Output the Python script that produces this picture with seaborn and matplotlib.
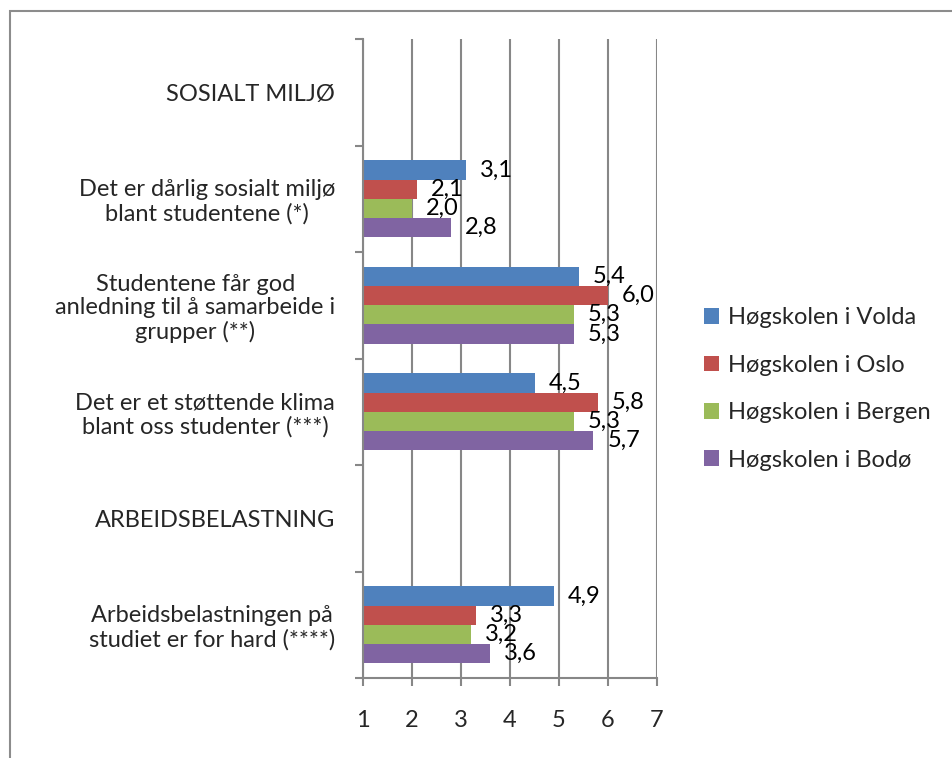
import matplotlib
matplotlib.use("Agg")
import matplotlib.pyplot as plt
from matplotlib.patches import Rectangle
import pandas as pd
import seaborn as sns

# categories top to bottom (the two headings have no bars)
questions = [
    "SOSIALT MILJØ",
    "Det er dårlig sosialt miljø\nblant studentene (*)",
    "Studentene får god\nanledning til å samarbeide i\ngrupper (**)",
    "Det er et støttende klima\nblant oss studenter (***)",
    "ARBEIDSBELASTNING",
    "Arbeidsbelastningen på\nstudiet er for hard (****)",
]
rated = [questions[1], questions[2], questions[3], questions[5]]

schools = ["Høgskolen i Volda", "Høgskolen i Oslo", "Høgskolen i Bergen", "Høgskolen i Bodø"]
volda = [3.1, 5.4, 4.5, 4.9]
oslo = [2.1, 6.0, 5.8, 3.3]
bergen = [2.0, 5.3, 5.3, 3.2]
bodo = [2.8, 5.3, 5.7, 3.6]
colors = ["#4F81BD", "#C0504D", "#9BBB59", "#8064A2"]

xticks = [1, 2, 3, 4, 5, 6, 7]

rows = []
for school, vals in zip(schools, [volda, oslo, bergen, bodo]):
    for q, v in zip(rated, vals):
        rows.append({"question": q, "score": v, "school": school})
df = pd.DataFrame(rows)

sns.set_theme(style="white")
plt.rcParams["font.family"] = ["Lato", "DejaVu Sans"]
fsize = 17
grey = "#878787"

fig = plt.figure(figsize=(9.52, 7.58), dpi=100)
ax = fig.add_axes([363/952, 1 - 678/758, (657 - 363)/952, (678 - 39)/758])

sns.barplot(data=df, y="question", x="score", hue="school", orient="h",
            order=questions, hue_order=schools, palette=colors, saturation=1,
            width=0.72, linewidth=0, ax=ax)

for cont in ax.containers:
    labs = [f"{b.get_width():.1f}".replace(".", ",") for b in cont]
    ax.bar_label(cont, labels=labs, padding=10, fontsize=fsize, color="black")

ax.set_xlim(1, 7)
ax.set_ylim(len(questions) - 0.5, -0.5)
ax.set_xticks(xticks)
ax.set_xticklabels([str(t) for t in xticks])
ax.set_yticks(range(len(questions)))
ax.set_yticklabels(questions, ha="right", multialignment="center", linespacing=1.15)
ax.set_yticks([i - 0.5 for i in range(len(questions) + 1)], minor=True)
ax.set_xlabel("")
ax.set_ylabel("")

ax.xaxis.grid(True, color=grey, lw=1.5)
ax.yaxis.grid(False)
ax.set_axisbelow(True)
for s in ["top", "right"]:
    ax.spines[s].set_visible(False)
for s in ["left", "bottom"]:
    ax.spines[s].set_color(grey)
    ax.spines[s].set_linewidth(1.5)

ax.tick_params(axis="x", which="major", direction="out", length=6, width=1.5,
               color=grey, labelsize=fsize, pad=17, bottom=True)
ax.tick_params(axis="y", which="major", length=0, labelsize=fsize, pad=20)
ax.tick_params(axis="y", which="minor", direction="out", length=6, width=1.5,
               color=grey, left=True)

handles, labels = ax.get_legend_handles_labels()
ax.legend_.remove()
fig.legend(handles, labels, loc="center left", bbox_to_anchor=(704/952, 1 - 389/758),
           frameon=False, fontsize=fsize, handlelength=0.65, handleheight=0.65,
           handletextpad=0.35, labelspacing=1.12, borderpad=0, borderaxespad=0)

# outer chart frame, cut by the picture edge
fig.patches.append(Rectangle((10/952, -0.1), 1.2, 1.1 - 11/758, transform=fig.transFigure,
                             fill=False, ec="#8c8c8c", lw=1.5))

fig.savefig("out.png", dpi=100)
